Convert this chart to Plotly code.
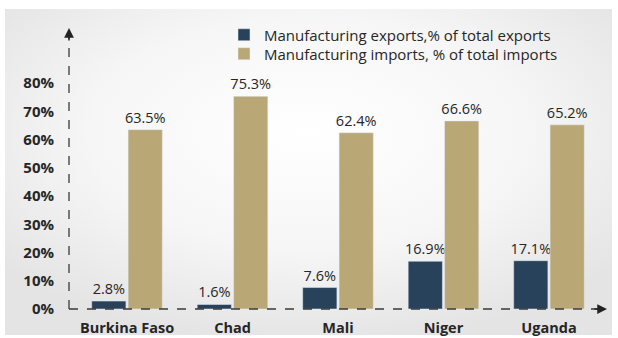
import plotly.graph_objects as go
import urllib.parse

countries = ["Burkina Faso", "Chad", "Mali", "Niger", "Uganda"]
exports_pct = [2.8, 1.6, 7.6, 16.9, 17.1]
imports_pct = [63.5, 75.3, 62.4, 66.6, 65.2]
y_ticks = [0, 10, 20, 30, 40, 50, 60, 70, 80]
y_tick_labels = [f"{v}%" for v in y_ticks]

FONT = "Open Sans"
TXT = "#262626"

L, R, T, B = 69, 607, 28, 309
W, H = R - L, B - T

fig = go.Figure()
fig.add_trace(go.Bar(
    x=countries, y=exports_pct, name="Manufacturing exports,% of total exports",
    marker_color="#27425a", text=[f"{v:.1f}%" for v in exports_pct],
    textposition="outside", cliponaxis=False, constraintext="none",
    textfont=dict(family=FONT, size=14.5, color=TXT), legend="legend",
))
fig.add_trace(go.Bar(
    x=countries, y=imports_pct, name="Manufacturing imports, % of total imports",
    marker_color="#b9a775", text=[f"{v:.1f}%" for v in imports_pct],
    textposition="outside", cliponaxis=False, constraintext="none",
    textfont=dict(family=FONT, size=14.5, color=TXT), legend="legend2",
))

svg = ('<svg xmlns="http://www.w3.org/2000/svg" width="607" height="326" viewBox="0 0 607 326" preserveAspectRatio="none">'
       '<defs><radialGradient id="g" cx="50%" cy="38%" r="65%">'
       '<stop offset="0" stop-color="#ffffff"/><stop offset="0.55" stop-color="#f6f6f6"/>'
       '<stop offset="1" stop-color="#e4e4e4"/></radialGradient></defs>'
       '<rect width="607" height="326" fill="url(#g)"/></svg>')
src = "data:image/svg+xml;charset=utf-8," + urllib.parse.quote(svg)

fig.add_layout_image(dict(
    source=src, xref="paper", yref="paper",
    x=(5 - L) / W, y=(B - 9) / H, sizex=(612 - 5) / W, sizey=(335 - 9) / H,
    xanchor="left", yanchor="top", sizing="stretch", layer="below",
))

# dashed axes
fig.add_shape(type="line", xref="paper", yref="paper", x0=0, x1=0, y0=0, y1=0.97,
              line=dict(color="#3a3a3a", width=1.3, dash="dash"))
fig.add_shape(type="line", xref="paper", yref="paper", x0=0, x1=0.985, y0=0, y1=0,
              line=dict(color="#3a3a3a", width=1.6, dash="dash"))
# arrow heads
fig.add_annotation(xref="paper", yref="paper", x=0, y=1.0, ax=0, ay=14,
                   showarrow=True, arrowhead=2, arrowsize=1.3, arrowwidth=1.5,
                   arrowcolor="#222", text="")
fig.add_annotation(xref="paper", yref="paper", x=1.0, y=0, ax=-14, ay=0,
                   showarrow=True, arrowhead=2, arrowsize=1.3, arrowwidth=1.5,
                   arrowcolor="#222", text="")

leg_common = dict(xanchor="left", yanchor="middle", bgcolor="rgba(0,0,0,0)",
                  font=dict(family=FONT, size=15, color=TXT), itemwidth=30)

fig.update_layout(
    width=618, height=338,
    margin=dict(l=L, r=618 - R, t=T, b=338 - B, autoexpand=False),
    paper_bgcolor="white", plot_bgcolor="rgba(0,0,0,0)",
    barmode="group", bargap=0.31, bargroupgap=0.06,
    font=dict(family=FONT, color=TXT),
    showlegend=True,
    legend=dict(x=(224 - L) / W, y=(B - 35) / H, **leg_common),
    legend2=dict(x=(224 - L) / W, y=(B - 54) / H, **leg_common),
    xaxis=dict(range=[-0.55, 4.55], showgrid=False, zeroline=False, showline=False,
               automargin=False,
               ticks="", tickfont=dict(family=FONT, size=14.5, color=TXT, weight="bold"),
               ticklabelstandoff=8),
    yaxis=dict(range=[0, 99.5], tickvals=y_ticks, ticktext=y_tick_labels,
               automargin=False,
               showgrid=False, zeroline=False, showline=False, ticks="",
               tickfont=dict(family=FONT, size=15, color=TXT, weight="bold"),
               ticklabelstandoff=14),
)

fig.write_html("out.html")
